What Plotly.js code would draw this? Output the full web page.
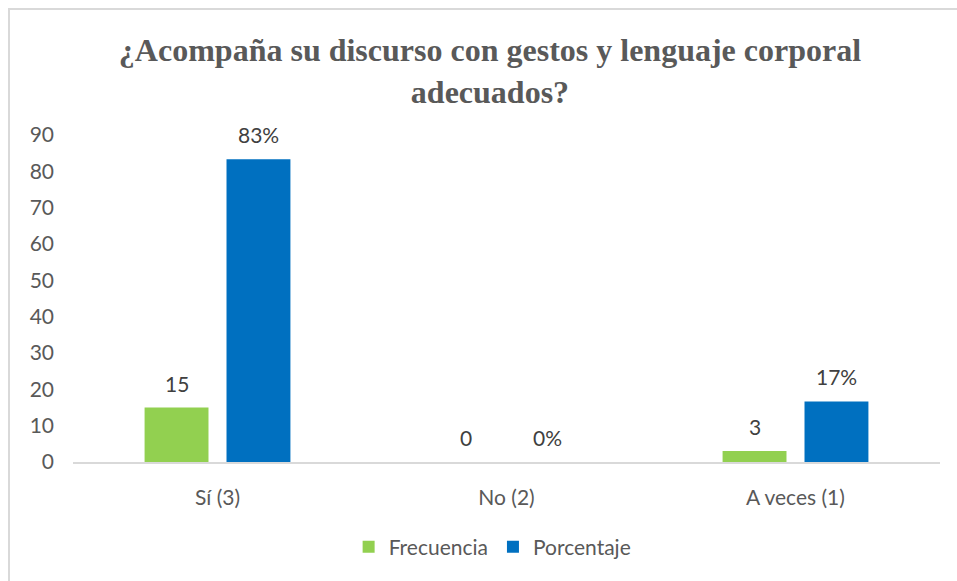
<!DOCTYPE html>
<html>
<head>
<meta charset="utf-8">
<script src="https://cdn.plot.ly/plotly-3.0.1.min.js"></script>
<style>
  html, body { margin: 0; padding: 0; background: #ffffff; overflow: hidden; }
  #frame { position: absolute; left: 8px; top: 8px; width: 1000px; height: 600px;
           border-left: 2px solid #d9d9d9; border-top: 2px solid #d9d9d9; pointer-events: none; z-index: 2; }
  #chart { position: absolute; left: 0; top: 0; width: 957px; height: 581px; }
</style>
</head>
<body>
<div id="chart"></div>
<div id="frame"></div>
<script>
const categories = ['Sí (3)', 'No (2)', 'A veces (1)'];
const frecuencia = [15, 0, 3];
const porcentaje = [83.33, 0, 16.67];
const frecuenciaLabels = ['15', '0', '3'];
const porcentajeLabels = ['83%', '0%', '17%'];
const yTickValues = [0, 10, 20, 30, 40, 50, 60, 70, 80, 90];
const seriesNames = ['Frecuencia', 'Porcentaje'];
const titleText = '¿Acompaña su discurso con gestos y lenguaje corporal<br>adecuados?';

const sansFamily = 'Lato, "Open Sans", sans-serif';
const labelFont = { family: sansFamily, size: 21, color: '#404040' };

const traces = [
  { type: 'bar', name: seriesNames[0], x: categories, y: frecuencia,
    marker: { color: '#92d050' }, hoverinfo: 'none' },
  { type: 'bar', name: seriesNames[1], x: categories, y: porcentaje,
    marker: { color: '#0070c0' }, hoverinfo: 'none' }
];

const annotations = [];
categories.forEach((c, i) => {
  annotations.push({ x: c, y: frecuencia[i], xref: 'x', yref: 'y', text: frecuenciaLabels[i],
    showarrow: false, xshift: -41, yshift: 10, yanchor: 'bottom', font: labelFont });
  annotations.push({ x: c, y: porcentaje[i], xref: 'x', yref: 'y', text: porcentajeLabels[i],
    showarrow: false, xshift: 41, yshift: 10, yanchor: 'bottom', font: labelFont });
});

const layout = {
  width: 957, height: 581,
  margin: { l: 73, r: 17, t: 135, b: 119 },
  paper_bgcolor: '#ffffff', plot_bgcolor: '#ffffff',
  barmode: 'group', bargap: 0.433, bargroupgap: 0.22,
  title: {
    text: titleText,
    font: { family: '"Liberation Serif", "Times New Roman", serif', size: 32, color: '#595959', weight: 'bold' },
    xref: 'container', x: 0.512, xanchor: 'center',
    yref: 'container', y: 0.895, yanchor: 'top'
  },
  xaxis: {
    type: 'category', showgrid: false, zeroline: false,
    showline: true, linecolor: '#d9d9d9', linewidth: 1.5,
    ticks: '', ticklabelstandoff: 16,
    tickfont: { family: sansFamily, size: 21, color: '#595959' }
  },
  yaxis: {
    range: [0, 90], tickvals: yTickValues, showgrid: false, zeroline: false, showline: false,
    ticks: '', ticklabelstandoff: 18,
    tickfont: { family: sansFamily, size: 21, color: '#595959' }
  },
  showlegend: true,
  legend: {
    orientation: 'h', x: 0.484, xanchor: 'center', y: -0.26, yanchor: 'middle',
    font: { family: sansFamily, size: 21, color: '#595959' },
    traceorder: 'normal'
  },
  annotations: annotations
};

Plotly.newPlot('chart', traces, layout, { displayModeBar: false, staticPlot: true });
</script>
</body>
</html>
